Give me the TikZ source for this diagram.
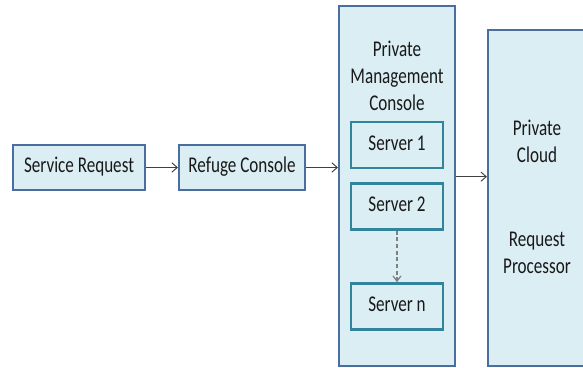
\documentclass[tikz,border=0pt]{standalone}
\usepackage{fontspec}
\usepackage{graphicx}
\setmainfont{Carlito}
\usetikzlibrary{arrows.meta}
\definecolor{boxfill}{HTML}{DBEEF4}
\definecolor{outerline}{HTML}{4A6E9E}
\definecolor{serverline}{HTML}{31849B}
\definecolor{arrowcol}{HTML}{404040}
\definecolor{dashcol}{HTML}{7F7F7F}
\newcommand{\tallt}[1]{\scalebox{0.95}[1.25]{\fontsize{13.5pt}{16.2pt}\selectfont\begin{tabular}{@{}c@{}}#1\end{tabular}}}
\begin{document}
\begin{tikzpicture}[x=0.75pt,y=-0.75pt,
  outerbox/.style={draw=outerline,fill=boxfill,line width=1.6pt,minimum width=#1,inner sep=0pt},
  serverbox/.style={draw=serverline,fill=boxfill,line width=1.9pt,minimum width=69pt,minimum height=34.5pt,inner sep=0pt},
  lbl/.style={align=center,inner sep=0pt,text=black!90},
  conn/.style={draw=arrowcol,line width=0.7pt,-{Straight Barb[length=4pt,width=7pt]}},
  dconn/.style={draw=dashcol,line width=0.9pt,dashed,dash pattern=on 3pt off 2pt,-{Straight Barb[length=4pt,width=6pt]}}
]
\useasboundingbox (0,0) rectangle (583,368);
\clip (0,0) rectangle (583,368);
\node[outerbox=99pt,minimum height=33.75pt,lbl] (sr) at (79,167.5) {\tallt{Service Request}};
\node[outerbox=94.5pt,minimum height=33.75pt,lbl] (rc) at (242,167.5) {\tallt{Refuge Console}};
\node[outerbox=87pt,minimum height=270pt] (pmc) at (397,186) {};
\node[outerbox=90pt,minimum height=252pt] (pc) at (548,198) {};
\node[lbl] (pmct) at (397,78) {\tallt{Private\\Management\\Console}};
\node[serverbox,lbl] (s1) at (397,145) {\tallt{Server 1}};
\node[serverbox,lbl] (s2) at (397,206.5) {\tallt{Server 2}};
\node[serverbox,lbl] (sn) at (397,306.5) {\tallt{Server n}};
\node[lbl] (pct) at (537,143.5) {\tallt{Private\\Cloud}};
\node[lbl] (rpt) at (537,254.5) {\tallt{Request\\Processor}};
\draw[conn] (sr.east) -- (rc.west);
\draw[conn] (rc.east) -- (rc.east -| pmc.west);
\draw[conn] ([yshift=7pt]pmc.east) -- ([yshift=7pt]pmc.east -| pc.west);
\draw[dconn] (s2.south) -- (sn.north);
\end{tikzpicture}
\end{document}
